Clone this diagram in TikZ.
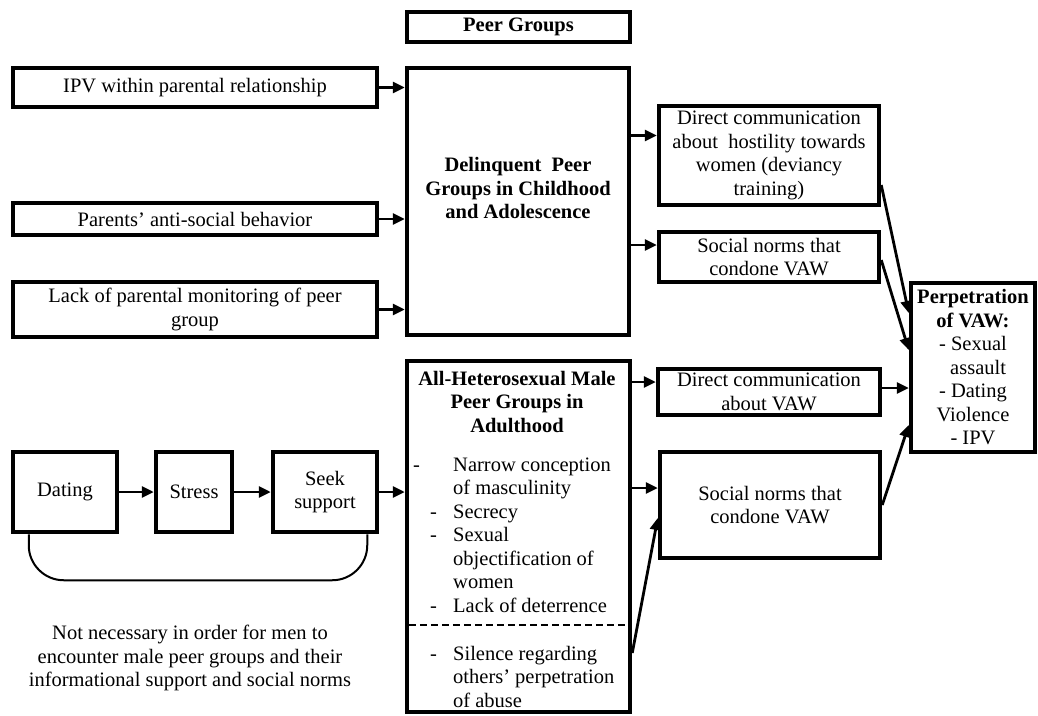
\documentclass[tikz,border=0pt]{standalone}
\usepackage{fontspec}
\setmainfont{Liberation Serif}
\usetikzlibrary{arrows.meta}
\newcommand{\figfont}{\fontsize{20.5pt}{23.5pt}\selectfont}
\tikzstyle{box} = [draw=black, line width=4.5pt, inner sep=0pt, align=center, font=\figfont]
\tikzstyle{txt} = [inner sep=0pt, align=center, font=\figfont]
\tikzstyle{boldtxt} = [inner sep=0pt, align=center, font=\figfont\bfseries]
\tikzstyle{arr} = [line width=2.8pt, -{Triangle[length=12pt,width=11pt]}]
\tikzstyle{brace} = [line width=2pt, rounded corners=35pt]
\tikzstyle{dashline} = [line width=2.5pt, dash pattern=on 7pt off 4pt]

\begin{document}
\begin{tikzpicture}[x=1pt,y=-1pt]
    \useasboundingbox (0,0) rectangle (1038,715);
    \node[box,font=\figfont\bfseries,minimum width=223pt,minimum height=30pt](peers) at (518.5,27){Peer Groups};
    \node[box,minimum width=364pt,minimum height=39pt](ipv) at (195,87.5){IPV within parental relationship};
    \node[box,minimum width=364pt,minimum height=32pt](parents) at (195,219){Parents’ anti-social behavior};
    \node[box,minimum width=364pt,minimum height=55pt](lack) at (195,309.5){Lack of parental monitoring of peer\\group};
    \node[box,minimum width=222pt,minimum height=267pt](delinq) at (518,201.5){};
    \node[boldtxt](delinqtxt) at (518,188){Delinquent\ \ Peer\\Groups in Childhood\\and Adolescence};
    \node[box,minimum width=220pt,minimum height=99pt](hostile) at (769,155.5){Direct communication\\about\ \ hostility towards\\women (deviancy\\training)};
    \node[box,minimum width=220pt,minimum height=50pt](normsA) at (769,257){Social norms that\\condone VAW};
    \node[box,minimum width=124pt,minimum height=169pt](perp) at (973,367.5){\textbf{Perpetration}\\\textbf{of VAW:}\\- Sexual\\\ \ assault\\- Dating\\Violence\\- IPV};
    \node[box,minimum width=223pt,minimum height=351pt](allhet) at (518.5,536.5){};
    \node[boldtxt](hettitle) at (517,402){All-Heterosexual Male\\Peer Groups in\\Adulthood};
    \node[txt,align=left,anchor=base west](hetlist) at (413,612){\makebox[40pt][l]{-}Narrow conception\\
      \hspace*{40pt}of masculinity\\
      \hspace*{17pt}\makebox[23pt][l]{-}Secrecy\\
      \hspace*{17pt}\makebox[23pt][l]{-}Sexual\\
      \hspace*{40pt}objectification of\\
      \hspace*{40pt}women\\
      \hspace*{17pt}\makebox[23pt][l]{-}Lack of deterrence};
    \node[txt,align=left,anchor=base west](silence) at (413,707){\hspace*{17pt}\makebox[23pt][l]{-}Silence regarding\\
      \hspace*{40pt}others’ perpetration\\
      \hspace*{40pt}of abuse};
    \node[box,minimum width=222pt,minimum height=46pt](vawcomm) at (769,392){Direct communication\\about VAW};
    \node[box,minimum width=220pt,minimum height=106pt](normsB) at (770,505){Social norms that\\condone VAW};
    \node[box,minimum width=104pt,minimum height=80pt](dating) at (65,492){Dating};
    \node[box,minimum width=76pt,minimum height=80pt](stress) at (194,492){Stress};
    \node[box,minimum width=104pt,minimum height=80pt](seek) at (325,492){Seek\\support};
    \node[txt](note) at (190,658){Not necessary in order for men to\\encounter male peer groups and their\\informational support and social norms};
    \draw[arr](ipv)--(delinq.west |- ipv);
    \draw[arr](parents)--(delinq.west |- parents);
    \draw[arr](lack)--(delinq.west |- lack);
    \draw[arr]([yshift=20pt]hostile.west -| delinq.east)--([yshift=20pt]hostile.west);
    \draw[arr]([yshift=12pt]normsA.west -| delinq.east)--([yshift=12pt]normsA.west);
    \draw[arr](dating)--(stress);
    \draw[arr](stress)--(seek);
    \draw[arr](seek)--(allhet.west |- seek);
    \draw[arr]([yshift=10pt]vawcomm.west -| allhet.east)--([yshift=10pt]vawcomm.west);
    \draw[arr]([yshift=17pt]normsB.west -| allhet.east)--([yshift=17pt]normsB.west);
    \draw[arr]([yshift=-116.5pt]allhet.east)--([yshift=-13pt]normsB.west);
    \draw[arr]([yshift=-29.5pt]hostile.east)--([yshift=54.5pt]perp.west);
    \draw[arr]([yshift=-3pt]normsA.east)--([yshift=17.5pt]perp.west);
    \draw[arr]([yshift=4pt]vawcomm.east)--([yshift=4pt]vawcomm.east -| perp.west);
    \draw[arr](normsB.east)--([yshift=-57.5pt]perp.west);
    \draw[brace]([xshift=18pt]dating.south west)-- ++(0,46) -| ([xshift=-12pt]seek.south east);
    \draw[dashline]([yshift=-88.5pt,xshift=4pt]allhet.west)--([yshift=-88.5pt,xshift=-4pt]allhet.east);
  \end{tikzpicture}
\end{document}
